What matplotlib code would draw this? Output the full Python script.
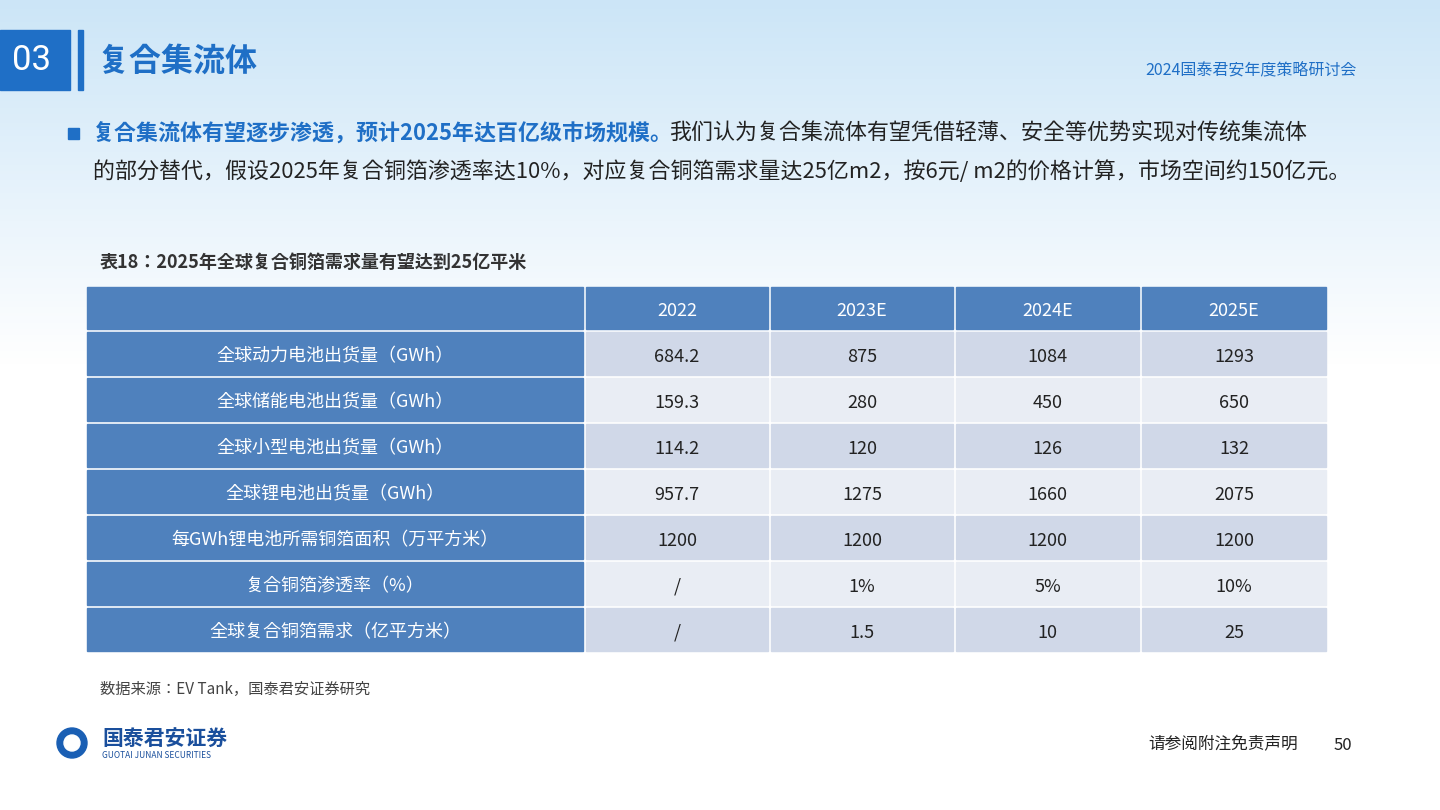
import matplotlib.pyplot as plt
import numpy as np
from matplotlib.patches import Rectangle, Circle

plt.rcParams['font.family'] = ['Noto Sans CJK SC', 'Noto Sans CJK JP', 'Noto Sans CJK TC',
                               'Noto Sans CJK KR', 'DejaVu Sans']

#--- table data
years = ["2022", "2023E", "2024E", "2025E"]
row_labels = ["全球动力电池出货量（GWh）", "全球储能电池出货量（GWh）", "全球小型电池出货量（GWh）",
              "全球锂电池出货量（GWh）", "每GWh锂电池所需铜箔面积（万平方米）",
              "复合铜箔渗透率（%）", "全球复合铜箔需求（亿平方米）"]
power = ["684.2", "875", "1084", "1293"]
storage = ["159.3", "280", "450", "650"]
small = ["114.2", "120", "126", "132"]
lithium = ["957.7", "1275", "1660", "2075"]
foil_area = ["1200", "1200", "1200", "1200"]
penetration = ["/", "1%", "5%", "10%"]
demand = ["/", "1.5", "10", "25"]
rows = [power, storage, small, lithium, foil_area, penetration, demand]

BLUE = "#1f6fc6"
HEAD = "#4f81bd"

fig = plt.figure(figsize=(14.4, 8.1), dpi=100)
ax = fig.add_axes([0, 0, 1, 1])
ax.set_xlim(0, 1440)
ax.set_ylim(810, 0)
ax.axis('off')

# background gradient
grad = np.linspace(0, 1, 256).reshape(-1, 1)
top = np.array([0.80, 0.90, 0.97])
cols = top + (1 - top) * np.clip(grad / 0.45, 0, 1)[..., None]
ax.imshow(np.repeat(cols, 2, axis=1), extent=[0, 1440, 810, 0], aspect='auto', zorder=0)

# header
ax.add_patch(Rectangle((0, 30), 70, 60, color=BLUE, zorder=2))
ax.text(32, 60, "03", color="white", fontsize=25, ha='center', va='center', family='Roboto', zorder=3)
ax.add_patch(Rectangle((78, 30), 5, 60, color=BLUE, zorder=2))
ax.text(97, 62, "复合集流体", color=BLUE, fontsize=23, fontweight='bold', va='center', zorder=3)
ax.text(1357, 70, "2024国泰君安年度策略研讨会", color=BLUE, fontsize=11.5, ha='right', va='center', zorder=3)

# bullet text
ax.add_patch(Rectangle((68, 128), 11, 11, color=BLUE, zorder=2))
t1 = ax.text(93, 133, "复合集流体有望逐步渗透，预计2025年达百亿级市场规模。", color=BLUE, fontsize=15.8,
             fontweight='bold', va='center', zorder=3)
fig.canvas.draw()
bb = t1.get_window_extent()
ax.annotate("我们认为复合集流体有望凭借轻薄、安全等优势实现对传统集流体", xy=(bb.x1 - 4, 0), xycoords='figure pixels',
            xytext=(bb.x1 - 4, 810 - 133), textcoords='figure pixels', color="#222222", fontsize=15.8, va='center')
ax.text(93, 172, "的部分替代，假设2025年复合铜箔渗透率达10%，对应复合铜箔需求量达25亿m2，按6元/ m2的价格计算，市场空间约150亿元。",
        color="#222222", fontsize=15.8, va='center', zorder=3)

ax.text(100, 262, "表18：2025年全球复合铜箔需求量有望达到25亿平米", color="#333333", fontsize=13,
        fontweight='bold', va='center', zorder=3)

# table
col_x = [87, 586, 771, 956, 1142]
col_w = [496, 182, 182, 183, 184]
y0, hh, rh, gap = 287, 42, 43, 3
ax.add_patch(Rectangle((col_x[0], y0), col_w[0], hh, color=HEAD, zorder=2))
for j, yr in enumerate(years):
    x = col_x[j + 1]
    ax.add_patch(Rectangle((x, y0), col_w[j + 1], hh, color=HEAD, zorder=2))
    ax.text(x + col_w[j + 1] / 2, y0 + hh / 2 + 3, yr, color="white", fontsize=13, ha='center', va='center', zorder=3)
for i, (lab, vals) in enumerate(zip(row_labels, rows)):
    y = y0 + hh + gap + i * (rh + gap)
    ax.add_patch(Rectangle((col_x[0], y), col_w[0], rh, color=HEAD, zorder=2))
    ax.text(col_x[0] + col_w[0] / 2, y + rh / 2 + 3, lab, color="white", fontsize=13, ha='center', va='center', zorder=3)
    fc = "#d0d8e8" if i % 2 == 0 else "#e9edf4"
    for j, v in enumerate(vals):
        x = col_x[j + 1]
        ax.add_patch(Rectangle((x, y), col_w[j + 1], rh, color=fc, zorder=2))
        ax.text(x + col_w[j + 1] / 2, y + rh / 2 + 3, v, color="#222222", fontsize=13, ha='center', va='center', zorder=3)

ax.text(100, 689, "数据来源：EV Tank，国泰君安证券研究", color="#444444", fontsize=11, va='center', zorder=3)

# logo & footer
ax.add_patch(Circle((72, 743), 15, color="#1a5fb4", zorder=2))
ax.add_patch(Circle((72, 743), 8, color="white", zorder=3))
ax.text(102, 738, "国泰君安证券", color="#1a4f9c", fontsize=15, fontweight='bold', va='center', zorder=3)
ax.text(102, 755, "GUOTAI JUNAN SECURITIES", color="#1a4f9c", fontsize=6, va='center', zorder=3)
ax.text(1298, 745, "请参阅附注免责声明", color="#222222", fontsize=12, ha='right', va='center', zorder=3)
ax.text(1352, 745, "50", color="#222222", fontsize=12, ha='right', va='center', zorder=3)

fig.savefig("out.png", dpi=100)
